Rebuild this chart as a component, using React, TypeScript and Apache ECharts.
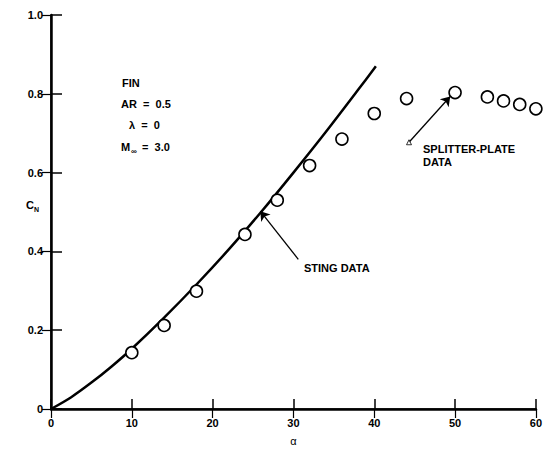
import React, { useEffect, useRef } from "react";
import * as echarts from "echarts";

const xTicks = [0, 10, 20, 30, 40, 50, 60];
const yTicks = [0, 0.2, 0.4, 0.6, 0.8, 1.0];

// Sting data (solid curve)
const stingX = [0, 2.5, 5, 7.5, 10, 14, 18, 22, 26, 30, 34, 38, 40.2];
const stingY = [0, 0.03, 0.067, 0.108, 0.153, 0.232, 0.316, 0.405, 0.5, 0.6, 0.703, 0.81, 0.87];

// Splitter-plate data (open circles)
const plateX = [10, 14, 18, 24, 28, 32, 36, 40, 44, 50, 54, 56, 58, 60];
const plateY = [0.143, 0.212, 0.299, 0.443, 0.53, 0.618, 0.685, 0.75, 0.788, 0.803, 0.792, 0.782, 0.773, 0.762];

// Annotation arrows [tail, tip] in data units
const stingArrow = [[30.6, 0.38], [25.9, 0.502]];
const plateArrow = [[44.3, 0.677], [49.4, 0.793]];

const FONT = "'Liberation Sans', Arial, sans-serif";

export default function App() {
  const ref = useRef<HTMLDivElement>(null);
  useEffect(() => {
    const chart = echarts.init(ref.current!, null, { renderer: "svg" });
    const labelStyle = { color: "#000", fontWeight: "bold" as const, fontSize: 11, fontFamily: FONT };
    const txt = (x: number, y: number, text: string, extra: any = {}) => ({
      type: "text",
      x,
      y,
      style: { text, fill: "#000", font: `bold 11px ${FONT}`, textVerticalAlign: "middle", ...extra },
    });
    chart.setOption({
      animation: false,
      backgroundColor: "#fff",
      grid: { left: 51, right: 8, top: 15, bottom: 34 },
      xAxis: [
        {
          type: "value",
          min: xTicks[0],
          max: xTicks[xTicks.length - 1],
          interval: 10,
          name: "α",
          nameLocation: "middle",
          nameGap: 26,
          nameTextStyle: { color: "#000", fontSize: 11, fontFamily: FONT },
          axisLine: { lineStyle: { color: "#000", width: 2.5 } },
          axisTick: { inside: true, length: 10, lineStyle: { color: "#000", width: 1.5 } },
          axisLabel: { ...labelStyle, margin: 8 },
          splitLine: { show: false },
        },
        {
          type: "value",
          position: "top",
          min: xTicks[0],
          max: xTicks[xTicks.length - 1],
          interval: 10,
          axisLine: { lineStyle: { color: "#000", width: 1.5 } },
          axisTick: { inside: true, length: 9, lineStyle: { color: "#000", width: 1.2 } },
          axisLabel: { show: false },
          splitLine: { show: false },
        },
      ],
      yAxis: [
        {
          type: "value",
          min: yTicks[0],
          max: yTicks[yTicks.length - 1],
          interval: 0.2,
          axisLine: { lineStyle: { color: "#000", width: 2.5 } },
          axisTick: { inside: true, length: 11, lineStyle: { color: "#000", width: 1.5 } },
          axisLabel: {
            ...labelStyle,
            margin: 8,
            formatter: (v: number) => (v === 0 ? "0" : v.toFixed(1)),
          },
          splitLine: { show: false },
        },
        {
          type: "value",
          position: "right",
          min: yTicks[0],
          max: yTicks[yTicks.length - 1],
          interval: 0.2,
          axisLine: { lineStyle: { color: "#000", width: 1.5 } },
          axisTick: { inside: true, length: 9, lineStyle: { color: "#000", width: 1.2 } },
          axisLabel: { show: false },
          splitLine: { show: false },
        },
      ],
      series: [
        {
          type: "line",
          smooth: 0.3,
          symbol: "none",
          data: stingX.map((x, i) => [x, stingY[i]]),
          lineStyle: { color: "#000", width: 2.5 },
          z: 3,
        },
        {
          type: "scatter",
          symbol: "circle",
          symbolSize: 12,
          data: plateX.map((x, i) => [x, plateY[i]]),
          itemStyle: { color: "#fff", borderColor: "#000", borderWidth: 1.6, opacity: 1 },
          z: 4,
        },
        {
          type: "lines",
          coordinateSystem: "cartesian2d",
          symbol: ["none", "arrow"],
          symbolSize: [0, 9],
          lineStyle: { color: "#000", width: 1.3, opacity: 1 },
          data: [{ coords: stingArrow }, { coords: plateArrow }],
          z: 5,
        },
        {
          type: "scatter",
          symbol: "triangle",
          symbolSize: 5,
          data: [plateArrow[0]],
          itemStyle: { color: "#fff", borderColor: "#000", borderWidth: 1 },
          z: 6,
        },
      ],
      graphic: [
        txt(122, 83, "FIN"),
        txt(121, 104, "AR  =  0.5"),
        txt(129, 125, "λ  =  0"),
        txt(121, 147, "M"),
        { type: "text", x: 131, y: 151, style: { text: "∞", fill: "#000", font: `bold 8px ${FONT}`, textVerticalAlign: "middle" } },
        txt(139, 147, " =  3.0"),
        txt(304, 268, "STING DATA"),
        txt(423, 149, "SPLITTER-PLATE"),
        txt(423, 162, "DATA"),
        txt(26, 205, "C"),
        { type: "text", x: 34, y: 209, style: { text: "N", fill: "#000", font: `bold 7px ${FONT}`, textVerticalAlign: "middle" } },
      ],
    });
    return () => chart.dispose();
  }, []);
  return <div ref={ref} style={{ position: "fixed", left: 0, top: 0, width: 545, height: 451 }} />;
}
